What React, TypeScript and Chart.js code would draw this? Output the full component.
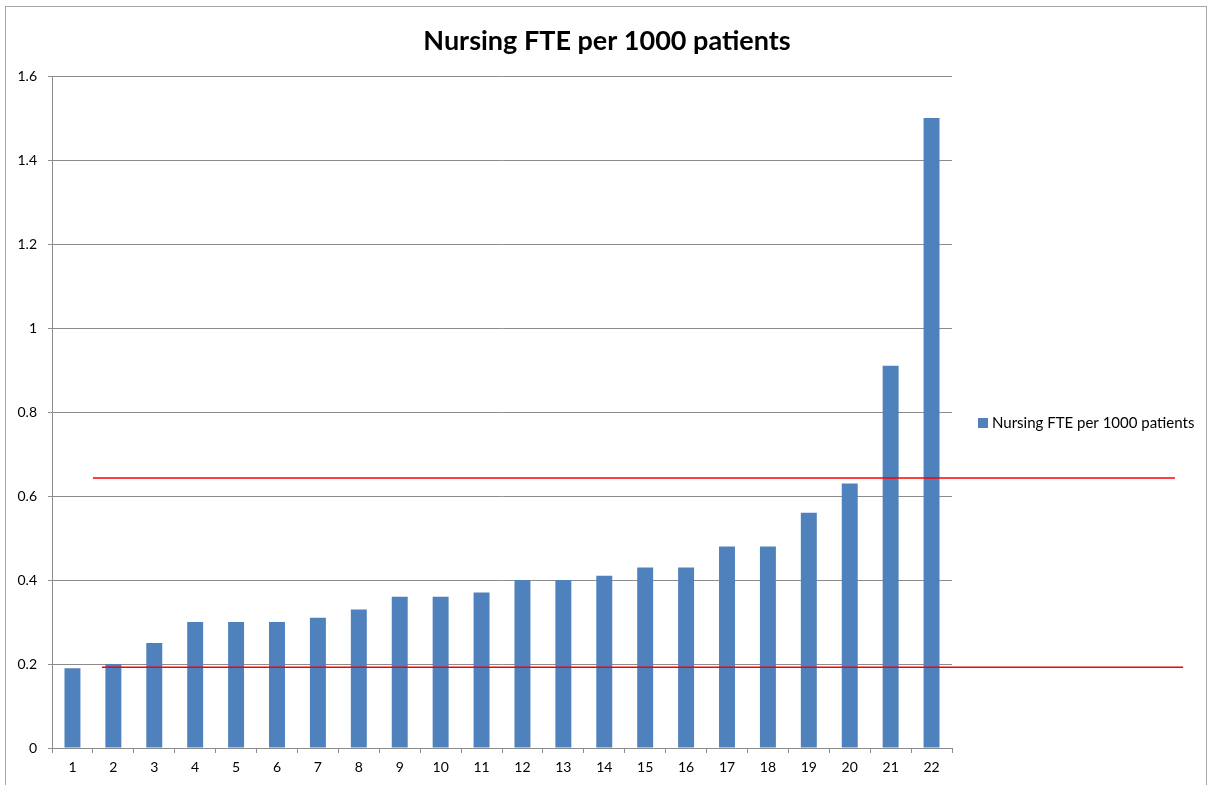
import React, { useEffect, useRef } from "react";
import { Chart, registerables } from "chart.js";

Chart.register(...registerables);

const categories: string[] = [
  "1", "2", "3", "4", "5", "6", "7", "8", "9", "10", "11",
  "12", "13", "14", "15", "16", "17", "18", "19", "20", "21", "22",
];
const nursingFte: number[] = [
  0.19, 0.2, 0.25, 0.3, 0.3, 0.3, 0.31, 0.33, 0.36, 0.36, 0.37,
  0.4, 0.4, 0.41, 0.43, 0.43, 0.48, 0.48, 0.56, 0.63, 0.91, 1.5,
];
const seriesLabel = "Nursing FTE per 1000 patients";
const chartTitle = "Nursing FTE per 1000 patients";
const yMin = 0;
const yMax = 1.6;
const yStep = 0.2;
// red reference lines: value on y scale, start / end on category index scale
const refValues: number[] = [0.643, 0.192];
const refStart: number[] = [0.5, 0.72];
const refEnd: number[] = [26.95, 27.15];

const FONT = "Lato, 'Open Sans', sans-serif";
const BAR_COLOR = "#4F81BD";
const GRID_COLOR = "#8c8c8c";

const decorPlugin = {
  id: "decor",
  beforeDraw(chart: any) {
    const ctx = chart.ctx;
    ctx.save();
    ctx.fillStyle = "#ffffff";
    ctx.fillRect(0, 0, chart.width, chart.height);
    ctx.strokeStyle = "#a6a6a6";
    ctx.lineWidth = 1;
    ctx.strokeRect(5.5, 6.5, chart.width - 7, chart.height + 10);
    ctx.restore();
  },
  afterDraw(chart: any) {
    const ctx = chart.ctx;
    const xs = chart.scales.x;
    const ys = chart.scales.y;
    ctx.save();
    // reference lines
    ctx.strokeStyle = "#ff0000";
    ctx.lineWidth = 1.5;
    refValues.forEach((v, i) => {
      const y = ys.getPixelForValue(v);
      ctx.beginPath();
      ctx.moveTo(xs.getPixelForValue(refStart[i]), y);
      ctx.lineTo(xs.getPixelForValue(refEnd[i]), y);
      ctx.stroke();
    });
    // title
    ctx.fillStyle = "#000000";
    ctx.font = `bold 27px ${FONT}`;
    ctx.textAlign = "center";
    ctx.textBaseline = "middle";
    ctx.fillText(chartTitle, 607, 41);
    // legend
    const lx = 978;
    const ly = 423;
    ctx.fillStyle = BAR_COLOR;
    ctx.fillRect(lx, ly - 5, 10, 10);
    ctx.fillStyle = "#000000";
    ctx.font = `15px ${FONT}`;
    ctx.textAlign = "left";
    ctx.fillText(seriesLabel, lx + 14, ly);
    ctx.restore();
  },
};

export default function App() {
  const canvasRef = useRef<HTMLCanvasElement | null>(null);

  useEffect(() => {
    document.body.style.margin = "0";
    const canvas = canvasRef.current;
    if (!canvas) return;
    const chart = new Chart(canvas, {
      type: "bar",
      data: {
        labels: categories,
        datasets: [
          {
            label: seriesLabel,
            data: nursingFte,
            backgroundColor: BAR_COLOR,
            borderWidth: 0,
            categoryPercentage: 1,
            barPercentage: 0.39,
          },
        ],
      },
      options: {
        responsive: false,
        animation: false,
        devicePixelRatio: 1,
        layout: { padding: { left: 8, right: 256, top: 76, bottom: 0 } },
        plugins: {
          legend: { display: false },
          title: { display: false },
          tooltip: { enabled: false },
        },
        scales: {
          x: {
            offset: true,
            grid: {
              display: true,
              offset: true,
              drawOnChartArea: false,
              drawTicks: true,
              tickLength: 5,
              color: GRID_COLOR,
            },
            border: { display: true, color: GRID_COLOR },
            ticks: {
              color: "#000000",
              font: { family: FONT, size: 14 },
              padding: 6,
              maxRotation: 0,
              autoSkip: false,
            },
            afterFit(scale: any) {
              scale.height = 37;
            },
          },
          y: {
            min: yMin,
            max: yMax,
            grid: {
              color: GRID_COLOR,
              tickLength: 4,
              drawTicks: true,
            },
            border: { display: true, color: GRID_COLOR },
            ticks: {
              stepSize: yStep,
              color: "#000000",
              font: { family: FONT, size: 14 },
              padding: 11,
              callback: (value: any) => String(Number(Number(value).toFixed(1))),
            },
            afterFit(scale: any) {
              scale.width = 44;
            },
          },
        },
      },
      plugins: [decorPlugin],
    });
    return () => chart.destroy();
  }, []);

  return (
    <div style={{ position: "fixed", left: 0, top: 0, width: 1208, height: 785 }}>
      <canvas ref={canvasRef} width={1208} height={785} />
    </div>
  );
}
